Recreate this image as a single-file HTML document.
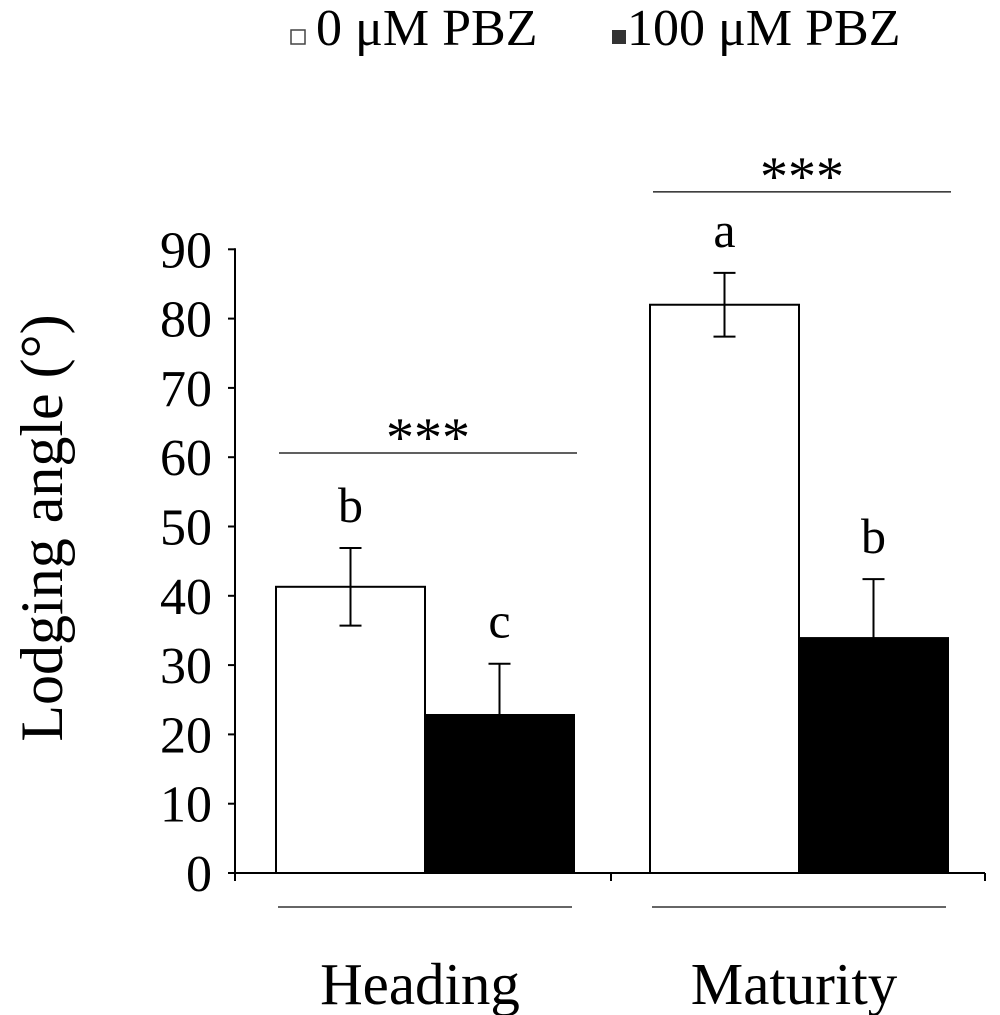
<!DOCTYPE html>
<html><head><meta charset="utf-8"><style>
body{margin:0;background:#fff}
svg{display:block;font-family:"Liberation Serif",serif}
</style></head><body>
<svg id="c" width="1000" height="1015" viewBox="0 0 1000 1015">
<g>
<rect x="291" y="30" width="14" height="14" fill="#fff" stroke="#444" stroke-width="1.5"/>
<text x="316" y="45" font-size="52">0 μM PBZ</text>
<rect x="612" y="30" width="14" height="14" fill="#333"/>
<text x="627" y="45" font-size="52">100 μM PBZ</text>
</g>
<text transform="translate(62,528) rotate(-90)" text-anchor="middle" font-size="60">Lodging angle (°)</text>
<g id="plot"></g>
</svg>
<script>
const categories=["Heading","Maturity"];
const control=[41.3,82.0];
const controlErr=[5.6,4.6];
const pbz=[22.8,33.9];
const pbzErr=[7.4,8.5];
const letters0=["b","a"];
const letters1=["c","b"];
const sig=["***","***"];
const yTicks=[0,10,20,30,40,50,60,70,80,90];
const NS="http://www.w3.org/2000/svg";
const g=document.getElementById('plot');
const y=v=>873-v*6.93;
const groupX=[276,650];
const bw=149;
function mk(t,a,txt){const e=document.createElementNS(NS,t);for(const k in a)e.setAttribute(k,a[k]);if(txt!==undefined)e.textContent=txt;g.appendChild(e);return e;}
yTicks.forEach(v=>{
 const l=mk('line',{x1:228,x2:235,y1:y(v),y2:y(v),stroke:'#000','stroke-width':2});
 
 
 const t=mk('text',{x:212,y:y(v)+18,'text-anchor':'end','font-size':52},String(v));
 
 
});
categories.forEach((c,i)=>{
 const x0=groupX[i];
 [[control,controlErr,'#fff',letters0,'control'],[pbz,pbzErr,'#000',letters1,'pbz']].forEach((s,j)=>{
  const v=s[0][i],e=s[1][i],x=x0+j*bw;
  const r=mk('rect',{x:x,y:y(v),width:bw,height:y(0)-y(v),fill:s[2],stroke:'#000','stroke-width':2});
  
  
  const cx=x+bw/2;
  const eb=mk('path',{d:`M${cx},${y(v+e)}V${y(v-e)}M${cx-11},${y(v+e)}H${cx+11}M${cx-11},${y(v-e)}H${cx+11}`,stroke:'#000','stroke-width':2,fill:'none'});
  
  
  const lt=mk('text',{x:cx,y:y(v+e)-26,'text-anchor':'middle','font-size':50},s[3][i]);
  
  
 });
 const top=Math.max(control[i]+controlErr[i],pbz[i]+pbzErr[i]);
 const sy=y(top)-(i===1?81:95);
 const sl=mk('line',{x1:x0+3,x2:x0+2*bw+3,y1:sy,y2:sy,stroke:'#000','stroke-width':1.2});
 
 
 const st=mk('text',{x:x0+bw+3,y:sy+3,'text-anchor':'middle','font-size':56},sig[i]);
 
 
 const bl=mk('line',{x1:x0+2,x2:x0+2*bw-2,y1:907,y2:907,stroke:'#666','stroke-width':2});
 
 
 const ct=mk('text',{x:x0+bw-5,y:1004,'text-anchor':'middle','font-size':59},c);
 
 
});
const ya=mk('line',{x1:235,x2:235,y1:y(90)-1,y2:874,stroke:'#000','stroke-width':2});


const xa=mk('path',{d:'M235,873H985M235,873v8M611,873v8M985,873v8',stroke:'#000','stroke-width':2,fill:'none'});


</script>
</body></html>
